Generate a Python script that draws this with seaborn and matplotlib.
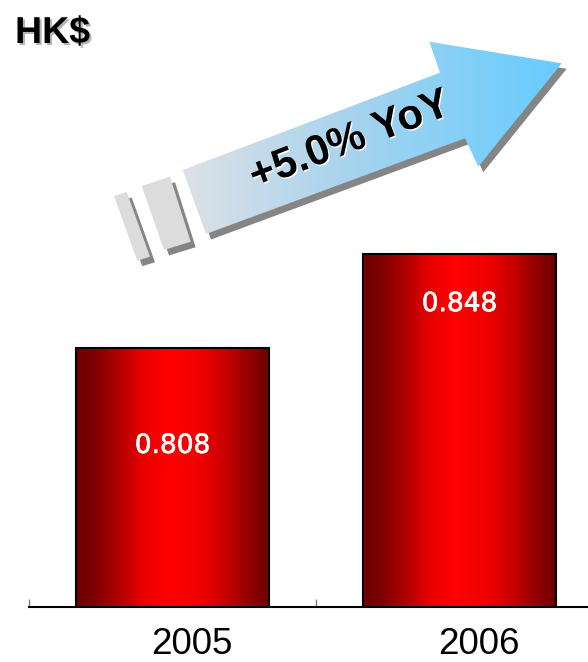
import numpy as np
import pandas as pd
import matplotlib
matplotlib.use("Agg")
import matplotlib.pyplot as plt
import seaborn as sns
from matplotlib.colors import LinearSegmentedColormap
from matplotlib.patches import Polygon
from matplotlib.transforms import ScaledTranslation
import matplotlib.patheffects as pe

# ---- data ----
years = ["2005", "2006"]
dividend = [0.808, 0.848]
value_labels = ["0.808", "0.848"]
unit_label = "HK$"
growth_label = "+5.0% YoY"

# ---- figure geometry / styling ----
W, H, DPI = 588, 662, 100
label_drop_px = [97.5, 50.0]      # distance of value labels below bar tops
y_lo, y_hi = 0.6985, 0.9558

sns.set_theme(style="white")
plt.rcParams["font.family"] = ["Liberation Sans", "DejaVu Sans"]

fig = plt.figure(figsize=(W / DPI, H / DPI), dpi=DPI)
fig.patch.set_facecolor("white")

ax_left, ax_bottom_px = 29, 606.5
ax = fig.add_axes([ax_left / W, (H - ax_bottom_px) / H, 1 - ax_left / W, ax_bottom_px / H])
ax.patch.set_alpha(0)

df = pd.DataFrame({"year": years, "dividend": dividend})
sns.barplot(data=df, x="year", y="dividend", ax=ax, width=0.67,
            color="red", edgecolor="black", linewidth=1.5, zorder=2)

# horizontal shading inside each bar: dark edges, bright red centre
bar_cmap = LinearSegmentedColormap.from_list(
    "barshade", [(0.0, "#6c0000"), (0.09, "#7d0000"), (0.26, "#c00000"),
                 (0.34, "#e80000"), (0.48, "#ff0000"), (0.64, "#f00000"),
                 (0.78, "#c80000"), (0.88, "#9a0000"), (1.0, "#6c0000")])
grad = np.linspace(0, 1, 256).reshape(1, -1)
bars = list(ax.patches)
for bar in bars:
    x, w, h = bar.get_x(), bar.get_width(), bar.get_height()
    im = ax.imshow(grad, cmap=bar_cmap, extent=[x, x + w, y_lo, h],
                   aspect="auto", zorder=1, interpolation="bilinear")
    im.set_clip_path(bar)
    bar.set_facecolor("none")

ax.set_yticks([])
ax.set_xlabel("")
ax.set_ylabel("")
sns.despine(ax=ax, left=True, top=True, right=True)
ax.spines["bottom"].set_color("black")
ax.spines["bottom"].set_linewidth(1.5)

ax.set_xticks([0, 1], years)
ax.set_xticks([-0.5, 0.5, 1.5], minor=True)
ax.tick_params(axis="x", which="major", length=0, pad=15, labelsize=26.5,
               labelcolor="black")
ax.tick_params(axis="x", which="minor", bottom=True, direction="in",
               length=5.5, width=1, color="#7f7f7f")
shift = ScaledTranslation(19 / DPI, 0, fig.dpi_scale_trans)
for lbl in ax.get_xticklabels():
    lbl.set_transform(lbl.get_transform() + shift)

# limits last, so tick placement cannot widen them
ax.set_xlim(-0.5, -0.5 + (W - ax_left) / 287.0)
ax.set_ylim(y_lo, y_hi)

# value labels inside the bars
for bar, val, txt, drop in zip(bars, dividend, value_labels, label_drop_px):
    ax.annotate(txt, xy=(bar.get_x() + bar.get_width() / 2, val),
                xytext=(0, -drop * 72 / DPI), textcoords="offset points",
                ha="center", va="center", color="white", fontsize=19,
                family=["DejaVu Sans"], zorder=4,
                path_effects=[pe.withStroke(linewidth=0.5, foreground="white")])

# ---- overlay in pixel space: growth arrow and unit title ----
ov = fig.add_axes([0, 0, 1, 1], zorder=5)
ov.patch.set_alpha(0)
ov.axis("off")

arrow_pts = np.array([(182.7, 170.0), (440.0, 72.7), (429.3, 41.7),
                      (561.7, 63.3), (478.3, 166.7), (465.0, 138.3),
                      (206.0, 234.0)])
seg_a = np.array([(114.0, 196.0), (126.7, 192.0), (150.0, 256.7), (137.3, 260.7)])
seg_b = np.array([(141.7, 186.0), (170.0, 176.7), (190.7, 241.7), (164.0, 250.0)])
shadow_off = np.array([5.0, 5.5])

for pts in (arrow_pts, seg_a, seg_b):
    ov.add_patch(Polygon(pts + shadow_off, closed=True, facecolor="#858585",
                         edgecolor="none", zorder=1))
for pts in (seg_a, seg_b):
    ov.add_patch(Polygon(pts, closed=True, facecolor="#dcdcdc",
                         edgecolor="none", zorder=2))

arrow_patch = Polygon(arrow_pts, closed=True, facecolor="none",
                      edgecolor="none", zorder=2)
ov.add_patch(arrow_patch)
arrow_cmap = LinearSegmentedColormap.from_list(
    "arrowshade", [(0.0, "#dde1e6"), (0.45, "#a6d3ee"), (1.0, "#66ccff")])
aim = ov.imshow(grad, cmap=arrow_cmap, extent=[182, 563, 262, 40],
                aspect="auto", zorder=2, interpolation="bilinear")
aim.set_clip_path(arrow_patch)

ov.text(350, 141, growth_label, rotation=21, rotation_mode="anchor",
        ha="center", va="center", fontsize=30.5, fontweight="bold",
        color="black", zorder=3,
        path_effects=[pe.withSimplePatchShadow(offset=(1, -1),
                                               shadow_rgbFace="white",
                                               alpha=1.0)])

ov.text(15, 43, unit_label, ha="left", va="baseline", fontsize=27,
        fontweight="bold", color="black", zorder=3,
        path_effects=[pe.withSimplePatchShadow(offset=(1.5, -1.5),
                                               shadow_rgbFace="#b4b4b4",
                                               alpha=1.0)])

ov.set_xlim(0, W)
ov.set_ylim(H, 0)

fig.savefig("out.png", dpi=DPI, facecolor="white")
